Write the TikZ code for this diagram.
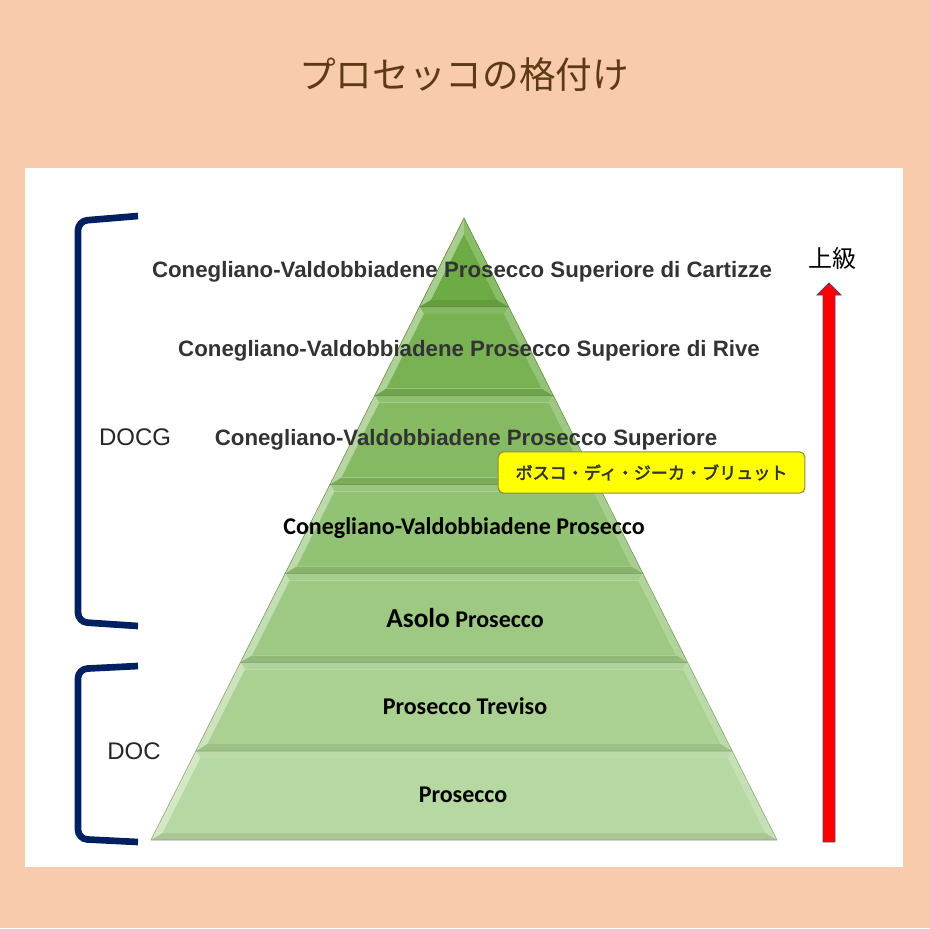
\documentclass[tikz,border=0pt]{standalone}
\usepackage{fontspec}
\setmainfont{Liberation Sans}
\newfontfamily\cjkfont{Noto Sans CJK JP}
\newfontfamily\cjkboldfont[FakeBold=2.5]{Noto Sans CJK JP}
\newfontfamily\narrowfont{Carlito}
\usepackage{xcolor}
\definecolor{PAGECOLOR}{HTML}{F8CBAD}
\definecolor{TITLECOLOR}{HTML}{5C3A12}
\definecolor{BRACKETCOLOR}{HTML}{002060}
\definecolor{LAYERTOP}{HTML}{6DAB44}
\definecolor{LAYERBOTTOM}{HTML}{B6D8A2}
\definecolor{LABELCOLOR}{HTML}{333333}
\definecolor{NOTECOLOR}{HTML}{FFFF00}
\definecolor{NOTEBORDER}{HTML}{8C8C3C}
\definecolor{ARROWCOLOR}{HTML}{FF0000}
\definecolor{ARROWBORDER}{HTML}{5A3C78}
\usepackage{tikz}
\usetikzlibrary{calc}
\tikzset{
  layer-text-style/.style = {
    font=\bfseries\fontsize{16.7}{18}\selectfont,
    text=LABELCOLOR, inner sep=0pt
  },
  base-text-style/.style = {
    font=\narrowfont\bfseries\fontsize{18}{20}\selectfont,
    text=black, inner sep=0pt
  },
  class-style/.style = {
    font=\fontsize{18}{20}\selectfont, text=black!85, inner sep=0pt
  },
  bracket-style/.style = {
    draw=BRACKETCOLOR, line width=5pt, rounded corners=7pt
  },
  note-style/.style = {
    rectangle, rounded corners=4pt, draw=NOTEBORDER, line width=0.8pt,
    fill=NOTECOLOR, minimum width=230pt, minimum height=31pt,
    font=\cjkboldfont\fontsize{12.8}{14}\selectfont, text=LABELCOLOR
  },
  arrow-style/.style = {
    fill=ARROWCOLOR, draw=ARROWBORDER, line width=0.6pt
  }
}
% one step of the pyramid, #1 = 1 (top) .. 7 (bottom)
\newcommand\createLayer[1]{
  \pgfmathsetmacro\yt{218+(#1-1)*88.857}
  \pgfmathsetmacro\yb{218+#1*88.857}
  \pgfmathsetmacro\wt{(\yt-218)*0.5032}
  \pgfmathsetmacro\wb{(\yb-218)*0.5032}
  \pgfmathsetmacro\iyt{max(\yt+7,218+16)}
  \pgfmathsetmacro\iyb{\yb-7}
  \pgfmathsetmacro\iwt{max(0,(\iyt-218)*0.5032-8)}
  \pgfmathsetmacro\iwb{(\iyb-218)*0.5032-8}
  \pgfmathtruncatemacro\mixp{(#1-1)*100/6}
  \colorlet{layerfill}{LAYERBOTTOM!\mixp!LAYERTOP}
  \coordinate (tl) at ({464-\wt},\yt);
  \coordinate (tr) at ({464+\wt},\yt);
  \coordinate (br) at ({464+\wb},\yb);
  \coordinate (bl) at ({464-\wb},\yb);
  \coordinate (itl) at ({464-\iwt},\iyt);
  \coordinate (itr) at ({464+\iwt},\iyt);
  \coordinate (ibr) at ({464+\iwb},\iyb);
  \coordinate (ibl) at ({464-\iwb},\iyb);
  \fill[layerfill!92!white] (tl) -- (tr) -- (itr) -- (itl) -- cycle;
  \fill[layerfill!60!white] (tl) -- (itl) -- (ibl) -- (bl) -- cycle;
  \fill[layerfill!80!white] (tr) -- (itr) -- (ibr) -- (br) -- cycle;
  \fill[layerfill!92!black] (bl) -- (ibl) -- (ibr) -- (br) -- cycle;
  \fill[layerfill] (itl) -- (itr) -- (ibr) -- (ibl) -- cycle;
  \draw[layerfill!75!black, line width=0.4pt] (tl) -- (tr) -- (br) -- (bl) -- cycle;
}

\begin{document}
\begin{tikzpicture}[x=0.75pt, y=-0.75pt]
  \useasboundingbox (0,0) rectangle (930,928);
  \fill[PAGECOLOR] (0,0) rectangle (930,928);
  \fill[white] (25,168) rectangle (903,867);

  \node[font=\cjkfont\fontsize{27.5}{30}\selectfont, text=TITLECOLOR] (title) at (464,75) {プロセッコの格付け};

  \foreach \i in {1,...,7}{\createLayer{\i}}

  \node[layer-text-style] (cartizze) at (462,272) {Conegliano-Valdobbiadene Prosecco Superiore di Cartizze};
  \node[layer-text-style] (rive) at (469,351) {Conegliano-Valdobbiadene Prosecco Superiore di Rive};
  \node[layer-text-style] (superiore) at (466,440) {Conegliano-Valdobbiadene Prosecco Superiore};
  \node[base-text-style] (cv) at (464,528) {Conegliano-Valdobbiadene Prosecco};
  \node[base-text-style] (asolo) at (465,618) {{\fontsize{20.5}{22}\selectfont Asolo} Prosecco};
  \node[base-text-style] (treviso) at (465,706) {Prosecco Treviso};
  \node[base-text-style] (prosecco) at (463,795) {Prosecco};

  \node[note-style] (bosco) at (651.5,472.5) {ボスコ・ディ・ジーカ・ブリュット};

  % brackets
  \coordinate (docg-top) at (138,216);
  \coordinate (docg-bottom) at (138,626);
  \coordinate (doc-top) at (138,666);
  \coordinate (doc-bottom) at (138,842);
  \draw[bracket-style] (docg-top) -- (78,221) -- (78,622) -- (docg-bottom);
  \draw[bracket-style] (doc-top) -- (78,669) -- (78,839) -- (doc-bottom);
  \node[class-style] (docg) at (135,437) {DOCG};
  \node[class-style] (doc) at (134,751) {DOC};

  % rank arrow
  \node[font=\cjkfont\fontsize{18}{20}\selectfont] (rank) at (832,258) {上級};
  \draw[arrow-style] (823,842) -- (823,295) -- (817,295) -- (829,283)
    -- (841,295) -- (835,295) -- (835,842) -- cycle;
\end{tikzpicture}
\end{document}
